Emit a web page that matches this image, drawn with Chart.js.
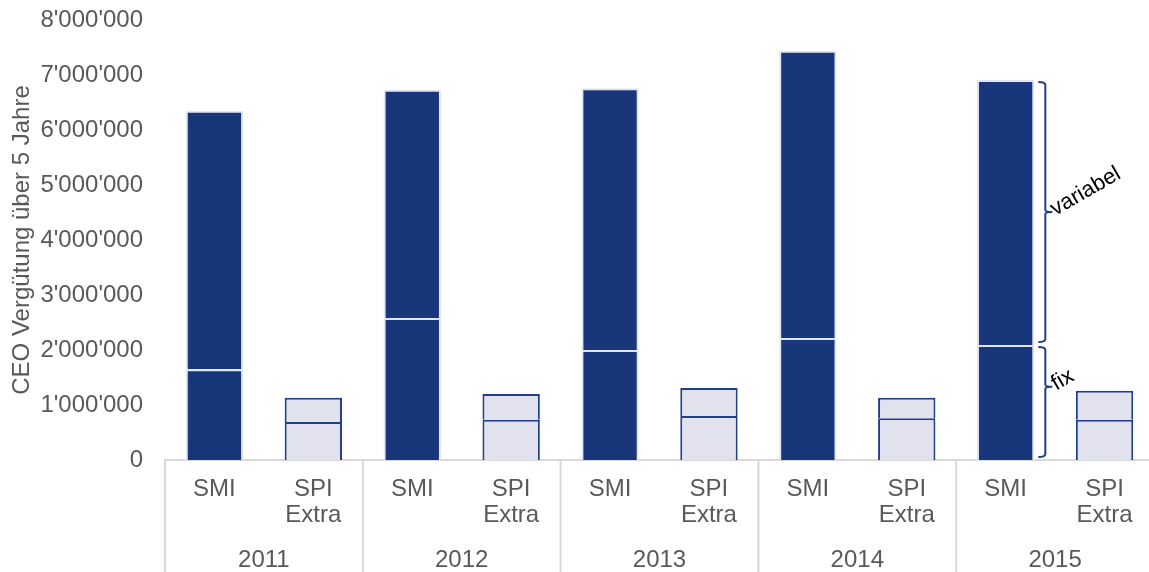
<!DOCTYPE html>
<html>
<head>
<meta charset="utf-8">
<script src="https://cdn.jsdelivr.net/npm/chart.js@4/dist/chart.umd.min.js"></script>
<style>
    html, body { margin: 0; padding: 0; background: #ffffff; overflow: hidden; }
    #wrap { width: 1149px; height: 572px; overflow: hidden; }
    #ceoChart { display: block; }
</style>
</head>
<body>
<div id="wrap"><canvas id="ceoChart" width="1154" height="572"></canvas></div>
<script>
    // Jahre und Indizes
    var years = ['2011', '2012', '2013', '2014', '2015'];
    var indices = [['SMI'], ['SPI', 'Extra']];

    // CEO Vergütung (CHF), fix und variabel
    var smiFix = [1650000, 2580000, 2000000, 2220000, 2090000];
    var smiVariabel = [4700000, 4150000, 4760000, 5220000, 4820000];
    var spiFix = [690000, 730000, 800000, 760000, 730000];
    var spiVariabel = [440000, 470000, 510000, 370000, 530000];

    var yTicks = [0, 1000000, 2000000, 3000000, 4000000, 5000000, 6000000, 7000000, 8000000];

    var NAVY = '#17377a';
    var NAVY_LINE = '#1f3f8a';
    var LIGHT = '#e1e2ee';
    var SMI_LINE = '#e2e4f0';
    var TEXT = '#595959';
    var GRID = '#d9d9d9';
    var FONT = '"Liberation Sans", Arial, sans-serif';

    // Kategorien und Werte abwechselnd SMI / SPI Extra pro Jahr
    var labels = [];
    var fixData = [];
    var variabelData = [];
    years.forEach(function (year, i) {
        labels.push(indices[0], indices[1]);
        fixData.push(smiFix[i], spiFix[i]);
        variabelData.push(smiVariabel[i], spiVariabel[i]);
    });

    var fills = labels.map(function (l, i) { return i % 2 === 0 ? NAVY : LIGHT; });
    var lines = labels.map(function (l, i) { return i % 2 === 0 ? SMI_LINE : NAVY_LINE; });

    function formatCHF(value) {
        return String(Math.round(value)).replace(/\B(?=(\d{3})+(?!\d))/g, "'");
    }

    function drawBrace(ctx, x, top, bottom, nubY) {
        ctx.beginPath();
        ctx.moveTo(x - 7, top);
        ctx.quadraticCurveTo(x, top, x, top + 3);
        ctx.lineTo(x, nubY - 2);
        ctx.quadraticCurveTo(x, nubY, x + 7, nubY);
        ctx.moveTo(x + 7, nubY);
        ctx.quadraticCurveTo(x, nubY, x, nubY + 2);
        ctx.lineTo(x, bottom - 3);
        ctx.quadraticCurveTo(x, bottom, x - 7, bottom);
        ctx.stroke();
    }

    function drawTiltedLabel(ctx, text, x, y) {
        ctx.save();
        ctx.translate(x, y);
        ctx.rotate(-30 * Math.PI / 180);
        ctx.fillStyle = '#000000';
        ctx.font = '22px ' + FONT;
        ctx.textAlign = 'left';
        ctx.textBaseline = 'alphabetic';
        ctx.fillText(text, 0, 0);
        ctx.restore();
    }

    // Jahresgruppen, Trennlinien und Klammern fix / variabel
    var groupPlugin = {
        id: 'groupPlugin',
        afterDraw: function (chart) {
            var ctx = chart.ctx;
            var area = chart.chartArea;
            var xScale = chart.scales.x;
            var yScale = chart.scales.y;
            var bottom = chart.height;

            ctx.save();
            ctx.strokeStyle = GRID;
            ctx.lineWidth = 2;
            ctx.fillStyle = TEXT;
            ctx.font = '24px ' + FONT;
            ctx.textAlign = 'center';
            ctx.textBaseline = 'middle';

            years.forEach(function (year, i) {
                var a = xScale.getPixelForValue(i * 2);
                var b = xScale.getPixelForValue(i * 2 + 1);
                var half = (b - a) / 2;
                var left = a - half;
                ctx.beginPath();
                ctx.moveTo(left, area.bottom);
                ctx.lineTo(left, bottom);
                ctx.stroke();
                ctx.fillText(year, (a + b) / 2, 560);
            });
            ctx.restore();

            // Klammern neben dem letzten SMI-Balken
            var last = years.length - 1;
            var bar = chart.getDatasetMeta(1).data[last * 2];
            var bx = bar.x + bar.width / 2 + 11;
            var yZero = yScale.getPixelForValue(0);
            var yFix = yScale.getPixelForValue(smiFix[last]);
            var yTotal = yScale.getPixelForValue(smiFix[last] + smiVariabel[last]);

            ctx.save();
            ctx.strokeStyle = NAVY_LINE;
            ctx.lineWidth = 2;
            var vTop = yTotal + 2, vBottom = yFix - 3;
            var vNub = (vTop + vBottom) / 2;
            drawBrace(ctx, bx, vTop, vBottom, vNub);
            var fTop = yFix + 2, fBottom = yZero - 3;
            var fNub = fTop + (fBottom - fTop) * 0.36;
            drawBrace(ctx, bx, fTop, fBottom, fNub);
            ctx.restore();

            drawTiltedLabel(ctx, 'variabel', bx + 10, vNub + 4);
            drawTiltedLabel(ctx, 'fix', bx + 11, fNub + 4);
        }
    };

    var ctx = document.getElementById('ceoChart').getContext('2d');
    var chart = new Chart(ctx, {
        type: 'bar',
        data: {
            labels: labels,
            datasets: [{
                label: 'fix',
                data: fixData,
                backgroundColor: fills,
                borderColor: lines,
                borderWidth: 2,
                borderSkipped: 'start'
            }, {
                label: 'variabel',
                data: variabelData,
                backgroundColor: fills,
                borderColor: lines,
                borderWidth: 2,
                borderSkipped: 'start'
            }]
        },
        options: {
            responsive: false,
            animation: false,
            devicePixelRatio: 1,
            layout: {
                padding: { left: 0, right: 0, top: 20, bottom: 0 }
            },
            datasets: {
                bar: { categoryPercentage: 1, barPercentage: 0.58 }
            },
            plugins: {
                legend: { display: false },
                tooltip: { enabled: false }
            },
            scales: {
                x: {
                    stacked: true,
                    grid: { display: false, drawTicks: false },
                    border: { display: true, color: GRID, width: 2 },
                    ticks: {
                        color: TEXT,
                        padding: 16,
                        maxRotation: 0,
                        autoSkip: false,
                        font: { family: FONT, size: 24, lineHeight: 1.1 }
                    },
                    afterFit: function (scale) { scale.height = 112; }
                },
                y: {
                    stacked: true,
                    min: 0,
                    max: 8000000,
                    grid: { display: false, drawTicks: false },
                    border: { display: false },
                    afterBuildTicks: function (scale) {
                        scale.ticks = yTicks.map(function (v) { return { value: v }; });
                    },
                    ticks: {
                        color: TEXT,
                        padding: 22,
                        font: { family: FONT, size: 24 },
                        callback: function (value) { return formatCHF(value); }
                    },
                    title: {
                        display: true,
                        text: 'CEO Vergütung über 5 Jahre',
                        color: TEXT,
                        padding: { top: 8, bottom: 0 },
                        font: { family: FONT, size: 24 }
                    },
                    afterFit: function (scale) {
                        scale.width = 165;
                        // Tick-Abstand nicht als Rand oben/unten zählen
                        scale.paddingTop = 0;
                        scale.paddingBottom = 0;
                    }
                }
            }
        },
        plugins: [groupPlugin]
    });
</script>
</body>
</html>
